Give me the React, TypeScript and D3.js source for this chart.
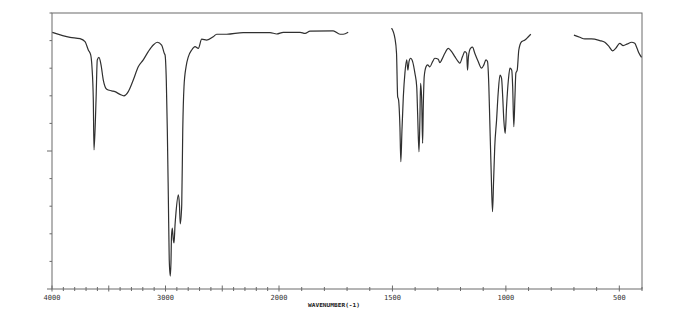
import React from "react";
import * as d3 from "d3";

// Segment 1: 4000 - 1695 cm-1
const seg1Wavenumber = [3997, 3841, 3753, 3709, 3680, 3659, 3648, 3636, 3630, 3612, 3601, 3586, 3568, 3548, 3518, 3474, 3445, 3401, 3366, 3328, 3284, 3240, 3196, 3152, 3108, 3072, 3034, 3011, 3004, 2993, 2984, 2975, 2967, 2958, 2952, 2947, 2940, 2931, 2925, 2916, 2908, 2887, 2877, 2870, 2857, 2848, 2837, 2819, 2799, 2769, 2740, 2711, 2681, 2637, 2579, 2549, 2461, 2315, 2079, 2020, 1981, 1907, 1885, 1863, 1761, 1731, 1717, 1695];
const seg1Transmittance = [93.0, 91.2, 90.7, 89.6, 86.6, 84.8, 80.5, 68.5, 50.4, 68.5, 83.0, 83.9, 81.2, 75.7, 72.4, 71.8, 71.5, 70.5, 70.0, 71.5, 75.7, 80.5, 83.0, 86.0, 88.4, 89.4, 88.4, 85.4, 84.8, 75.7, 57.6, 33.4, 10.5, 4.7, 9.4, 19.2, 22.1, 17.8, 16.7, 23.2, 27.5, 34.1, 30.4, 23.6, 30.4, 57.6, 73.3, 80.5, 84.1, 86.6, 87.8, 87.2, 90.5, 90.2, 91.4, 92.3, 92.3, 92.9, 92.9, 92.4, 93.0, 93.0, 92.6, 93.4, 93.5, 92.3, 92.3, 93.0];

// Segment 2: 1504 - 890 cm-1
const seg2Wavenumber = [1504, 1489, 1482, 1477, 1473, 1467, 1463, 1458, 1452, 1445, 1437, 1432, 1427, 1420, 1411, 1401, 1393, 1389, 1383, 1379, 1376, 1371, 1367, 1364, 1360, 1352, 1345, 1335, 1323, 1313, 1298, 1291, 1283, 1269, 1254, 1239, 1225, 1210, 1203, 1191, 1181, 1173, 1169, 1165, 1156, 1147, 1137, 1122, 1107, 1097, 1088, 1081, 1075, 1071, 1065, 1059, 1054, 1049, 1041, 1034, 1026, 1019, 1014, 1009, 1003, 997, 989, 982, 974, 970, 965, 960, 956, 950, 943, 931, 916, 901, 890];
const seg2Transmittance = [94.5, 90.8, 85.4, 69.7, 68.5, 58.8, 46.1, 57.6, 69.7, 78.2, 83.0, 79.3, 82.4, 83.6, 82.4, 78.2, 73.3, 63.7, 49.7, 61.2, 74.5, 68.5, 52.8, 66.1, 76.9, 80.5, 81.2, 80.5, 82.4, 83.6, 83.2, 82.0, 83.0, 85.4, 87.2, 86.0, 84.2, 82.4, 81.8, 84.2, 86.0, 85.4, 79.3, 84.2, 87.2, 87.6, 85.4, 82.4, 80.0, 81.2, 83.0, 82.4, 73.3, 61.2, 43.1, 28.0, 39.5, 51.6, 61.2, 70.9, 77.5, 76.3, 69.7, 61.2, 56.4, 66.1, 75.7, 80.0, 79.3, 73.3, 58.8, 69.7, 78.2, 79.3, 86.6, 89.6, 90.2, 91.4, 92.3];

// Segment 3: 700 - 402 cm-1
const seg3Wavenumber = [700, 674, 652, 623, 586, 564, 545, 530, 516, 498, 483, 464, 446, 432, 422, 413, 402];
const seg3Transmittance = [92.0, 91.2, 90.6, 90.6, 90.0, 89.4, 87.8, 86.3, 87.2, 89.0, 88.2, 88.8, 89.4, 89.0, 87.2, 85.4, 83.9];

const xTickLabels = [4000, 3000, 2000, 1500, 1000, 500];
const xTickValues = d3.range(4000, 399, -100);
const xMajorTicks = [4000, 3500, 3000, 2500, 2000, 1500, 1000, 500];
const yTickValues = d3.range(0, 101, 10);
const axisTitle = "WAVENUMBER(-1)";

const W = 700;
const H = 312;
const left = 52;
const right = 642;
const top = 13;
const bottom = 289;

export default function App() {
  const x = d3.scaleLinear().domain([4000, 2000, 400]).range([left, 279, right]);
  const y = d3.scaleLinear().domain([0, 100]).range([bottom, top]);
  const line = d3
    .line<[number, number]>()
    .x((d) => x(d[0]))
    .y((d) => y(d[1]))
    .curve(d3.curveMonotoneX);

  const segs = [
    [seg1Wavenumber, seg1Transmittance],
    [seg2Wavenumber, seg2Transmittance],
    [seg3Wavenumber, seg3Transmittance],
  ].map(([w, t]) => w.map((v, i) => [v, t[i]] as [number, number]));

  const frame = "#6a6a6a";
  return (
    <svg
      width={W}
      height={H}
      style={{ position: "absolute", left: 0, top: 0, background: "#fff" }}
    >
      <rect x={0} y={0} width={W} height={H} fill="#fff" />
      <rect
        x={left}
        y={top}
        width={right - left}
        height={bottom - top}
        fill="none"
        stroke={frame}
        strokeWidth={1}
      />
      {xTickValues.map((v) => {
        const major = xMajorTicks.includes(v);
        return (
          <line
            key={"xt" + v}
            x1={x(v)}
            x2={x(v)}
            y1={major ? bottom - 3.5 : bottom - 2}
            y2={major ? bottom + 2.5 : bottom + 2}
            stroke={frame}
            strokeWidth={1}
          />
        );
      })}
      {yTickValues.map((v) => {
        const major = v === 50 || v === 0;
        return (
          <line
            key={"yt" + v}
            x1={major ? left - 5 : left - 2.5}
            x2={left}
            y1={y(v)}
            y2={y(v)}
            stroke={frame}
            strokeWidth={1}
          />
        );
      })}
      {xTickLabels.map((v) => (
        <text
          key={"xl" + v}
          x={x(v)}
          y={300}
          textAnchor="middle"
          fontFamily="DejaVu Sans Mono"
          fontSize={7}
          fill="#333"
        >
          {v}
        </text>
      ))}
      <text
        x={308}
        y={307}
        fontFamily="DejaVu Sans Mono"
        fontSize={5.5}
        textLength={52}
        lengthAdjust="spacingAndGlyphs"
        fill="#222"
        fontWeight="bold"
      >
        {axisTitle}
      </text>
      {segs.map((s, i) => (
        <path
          key={"s" + i}
          d={line(s) || ""}
          fill="none"
          stroke="#303030"
          strokeWidth={1.2}
          strokeLinejoin="round"
        />
      ))}
    </svg>
  );
}
